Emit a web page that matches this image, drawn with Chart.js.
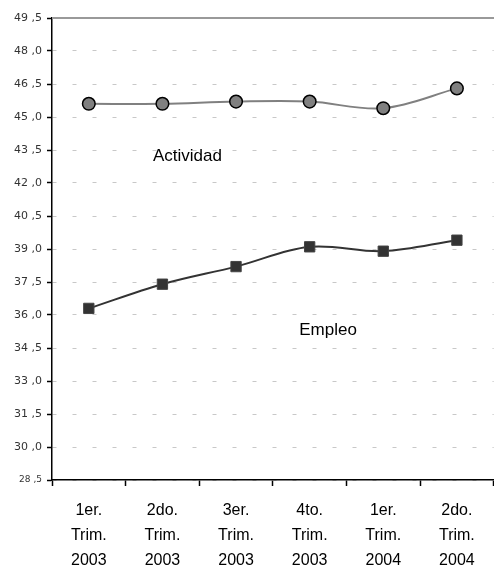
<!DOCTYPE html>
<html>
<head>
<meta charset="utf-8">
<script src="https://cdn.jsdelivr.net/npm/chart.js@4"></script>
<style>
  html, body { margin: 0; padding: 0; background: #fff; overflow: hidden; }
  #wrap { width: 502px; height: 574px; }
</style>
</head>
<body>
<div id="wrap"><canvas id="chart"></canvas></div>
<script>
// ── Data ────────────────────────────────────────────────────
const categories = [
  ["1er.", "Trim.", "2003"],
  ["2do.", "Trim.", "2003"],
  ["3er.", "Trim.", "2003"],
  ["4to.", "Trim.", "2003"],
  ["1er.", "Trim.", "2004"],
  ["2do.", "Trim.", "2004"]
];
const actividad = [45.6, 45.6, 45.7, 45.7, 45.4, 46.3];
const empleo = [36.3, 37.4, 38.2, 39.1, 38.9, 39.4];

const yMin = 28.5;
const yMax = 49.5;
const yStep = 1.5;

// series labels written inside the plot: [text, category position, value]
const seriesLabels = [
  ["Actividad", 1.34, 43.2],
  ["Empleo", 3.25, 35.3]
];

// ── Plugins ─────────────────────────────────────────────────
const extras = {
  id: "extras",
  afterDatasetsDraw(chart) {
    const { ctx, chartArea, scales } = chart;
    ctx.save();
    // top border line
    ctx.strokeStyle = "#999";
    ctx.lineWidth = 2;
    ctx.beginPath();
    ctx.moveTo(chartArea.left, chartArea.top);
    ctx.lineTo(chartArea.right + 5, chartArea.top);
    ctx.stroke();
    // in-plot labels
    ctx.fillStyle = "#000";
    ctx.font = "17px 'Liberation Sans', Arial, sans-serif";
    ctx.textAlign = "center";
    ctx.textBaseline = "middle";
    seriesLabels.forEach(([text, xv, yv]) => {
      ctx.fillText(text, scales.x.getPixelForValue(xv), scales.y.getPixelForValue(yv));
    });
    ctx.restore();
  }
};

// ── Chart ───────────────────────────────────────────────────
new Chart(document.getElementById("chart"), {
  type: "line",
  data: {
    labels: categories,
    datasets: [
      {
        label: "Actividad",
        data: actividad,
        borderColor: "#808080",
        borderWidth: 2,
        pointStyle: "circle",
        pointRadius: 6.3,
        pointBackgroundColor: "#808080",
        pointBorderColor: "#000",
        pointBorderWidth: 1.5,
        tension: 0.35
      },
      {
        label: "Empleo",
        data: empleo,
        borderColor: "#333",
        borderWidth: 2,
        pointStyle: "rect",
        pointRadius: 7.3,
        pointBackgroundColor: "#333",
        pointBorderColor: "#444",
        pointBorderWidth: 1,
        tension: 0.35
      }
    ]
  },
  options: {
    responsive: true,
    maintainAspectRatio: false,
    animation: false,
    layout: { padding: { top: 18, right: 1, left: 0, bottom: 0 } },
    plugins: {
      legend: { display: false },
      tooltip: { enabled: false }
    },
    scales: {
      x: {
        offset: true,
        border: { color: "#000", width: 1.5 },
        grid: {
          offset: true,
          drawOnChartArea: false,
          drawTicks: true,
          tickLength: 6,
          tickColor: "#000",
          tickWidth: 1.5
        },
        ticks: {
          color: "#000",
          padding: 12,
          maxRotation: 0,
          autoSkip: false,
          font: { family: "'Liberation Sans', Arial, sans-serif", size: 16, lineHeight: "25px" }
        },
        afterFit(scale) { scale.height = 94; }
      },
      y: {
        min: yMin,
        max: yMax,
        border: { color: "#000", width: 1.5, dash: [4, 16], dashOffset: -20 },
        grid: {
          color: (c) => (c.tick && c.tick.value >= yMax - 0.01 ? "rgba(0,0,0,0)" : "#c8c8c8"),
          lineWidth: 1,
          drawTicks: true,
          tickLength: 5,
          tickColor: "#000",
          tickWidth: 1.5,
          tickBorderDash: []
        },
        ticks: {
          stepSize: yStep,
          color: "#333",
          padding: 5,
          font: (c) => ({
            family: "'DejaVu Sans', Verdana, sans-serif",
            size: c.tick && Math.abs(c.tick.value - yMin) < 0.01 ? 9 : 11
          }),
          callback: (v) => Number(v).toFixed(1).replace(".", " ,")
        },
        afterFit(scale) { scale.width = 52; }
      }
    }
  },
  plugins: [extras]
});
</script>
</body>
</html>
